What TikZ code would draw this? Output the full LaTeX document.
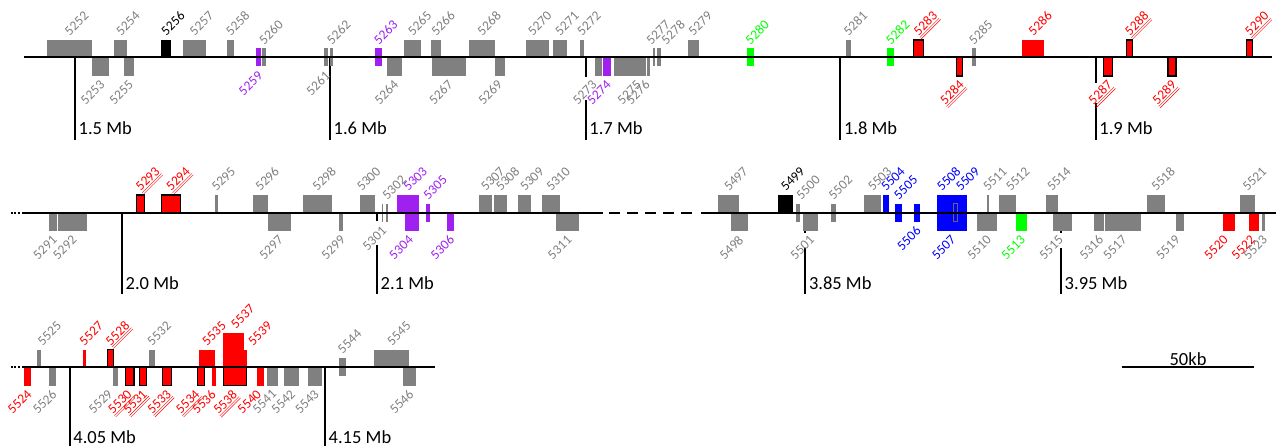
\documentclass[tikz,border=0pt]{standalone}
\usepackage{fontspec}
\setmainfont{Carlito}

\definecolor{genegray}{RGB}{128,128,128}
\definecolor{genepurple}{RGB}{160,32,240}
\definecolor{genegreen}{RGB}{0,255,0}

\newcommand\gplain[1]{#1}
\newcommand\guline[1]{\underline{\underline{#1}}}
\newcommand\gtype[5]{\def\gtop{#1}\def\gbot{#2}\def\gly{#3}\def\gtag{#4}\def\gbox{#5}\let\gfmt\gplain}

\tikzset{
  fwd/.code={\gtype{-17.5}{0}{-20.5}{tagup}{plain}},
  rev/.code={\gtype{0}{18.5}{21}{tagdn}{plain}},
  fwdS/.code={\gtype{-9}{9}{-12}{tagup}{plain}},
  revS/.code={\gtype{-9}{9}{12}{tagdn}{plain}},
  fwdX/.code={\gtype{-34.5}{0}{-37.5}{tagup}{plain}},
  fwdM/.code={\gtype{-9}{9}{-20.5}{tagup}{inner}},
  fwdH/.code={\gtype{-17.5}{0}{-20.5}{tagup}{hit}\let\gfmt\guline},
  revH/.code={\gtype{0}{18.5}{21}{tagdn}{hit}\let\gfmt\guline},
  plain/.style={},
  hit/.style={draw=black,line width=1.5pt},
  inner/.style={draw=black!60,line width=0.5pt},
  tag/.style={font=\fontsize{13.5}{13.5}\selectfont,inner sep=0.5pt,rotate=45},
  tagup/.style={tag,anchor=base west},
  tagdn/.style={xshift=-1.5pt,tag,anchor=north east},
}

\newcommand\generow[2]{%
  \foreach \xa/\xb/\ty/\col/\num/\dx in {#2}{%
    \tikzset{\ty}%
    \fill[fill=\col,\gbox] (\xa,{#1+(\gtop)}) rectangle (\xb,{#1+(\gbot)});
    \node[\gtag,text=\col] (g\num) at ({(\xa+\xb)/2+\dx},{#1+(\gly)}) {\gfmt{\num}};
  }%
}

\begin{document}
\begin{tikzpicture}[x=1pt,y=-1pt,
  axis/.style={line width=2pt},
  tick/.style={line width=2pt},
  mb/.style={font=\fontsize{18.5}{18.5}\selectfont,anchor=base west,inner sep=0pt}]
\useasboundingbox (0,0) rectangle (1276,446);

\foreach \x/\r/\g/\h/\e/\l/\m [count=\i] in {
  75/57.5/57.5/57.5/140/135/1.5 Mb, 330/57.5/57.5/57.5/140/135/1.6 Mb,
  585.7/57.5/77/100/140/135/1.7 Mb, 840.3/57.5/57.5/57.5/140/135/1.8 Mb,
  1095.7/57.5/83/103/140/135/1.9 Mb,
  122/212.7/212.7/212.7/294.3/289.3/2.0 Mb, 377/212.7/220.7/245/294.3/289.3/2.1 Mb,
  805.3/212.7/233/248/294.3/289.3/3.85 Mb, 1061/212.7/233/248/294.3/289.3/3.95 Mb,
  69.7/367/367/367/446/443.5/4.05 Mb, 325/367/367/367/446/443.5/4.15 Mb}{
  \draw[tick] (\x,\r) -- (\x,\g) (\x,\h) -- (\x,\e);
  \node[mb] (mb\i) at (\x+3.5,\l) {\m};
}

\generow{57.5}{
  46.7/92.3/fwd/genegray/5252/0, 92.3/109/rev/genegray/5253/0,
  114.3/127.3/fwd/genegray/5254/0, 124.3/134.3/rev/genegray/5255/0,
  160.7/171/fwd/black/5256/0, 183.3/205.7/fwd/genegray/5257/0,
  227/234.3/fwd/genegray/5258/0, 256.3/261/revS/genepurple/5259/0,
  262.3/265.7/fwdS/genegray/5260/0, 324/328/revS/genegray/5261/0,
  330/333.3/fwdS/genegray/5262/0, 375/382.3/fwdS/genepurple/5263/0,
  386.7/401.7/rev/genegray/5264/0, 404.3/420.7/fwd/genegray/5265/0,
  431/441/fwd/genegray/5266/0, 431.7/465.7/rev/genegray/5267/0,
  468.7/495.3/fwd/genegray/5268/0, 494.7/505.3/rev/genegray/5269/-2,
  526.3/549/fwd/genegray/5270/-5, 553/566.7/fwd/genegray/5271/0,
  580/583.7/fwd/genegray/5272/0, 595/602.3/rev/genegray/5273/-6,
  603.3/610.7/rev/genepurple/5274/0, 614.3/646/rev/genegray/5275/7,
  647.3/650/rev/genegray/5276/-3, 652.7/655.3/fwdS/genegray/5277/-3,
  657.3/660.7/fwdS/genegray/5278/7, 687.7/698.7/fwd/genegray/5279/0,
  746.7/753.7/fwdS/genegreen/5280/0, 845.7/851/fwd/genegray/5281/0,
  887/894/fwdS/genegreen/5282/0, 913.3/923.3/fwdH/red/5283/0,
  956.7/962.7/revH/red/5284/0, 971.7/975.7/fwdS/genegray/5285/0,
  1022.3/1044/fwd/red/5286/0, 1103.3/1112.7/revH/red/5287/0,
  1126.7/1132.7/fwdH/red/5288/0, 1168/1176/revH/red/5289/0,
  1246.7/1252.7/fwdH/red/5290/0}

\generow{212.7}{
  49.3/56.7/rev/genegray/5291/0, 58.3/87.3/rev/genegray/5292/0,
  136.7/144.3/fwdH/red/5293/0, 161.7/180.3/fwdH/red/5294/0,
  214.7/218/fwd/genegray/5295/0, 252.7/267.7/fwd/genegray/5296/0,
  267.7/290.7/rev/genegray/5297/0, 302.7/331.7/fwd/genegray/5298/0,
  339.3/343.3/rev/genegray/5299/0, 360/375/fwd/genegray/5300/-6,
  381.7/383.3/revS/genegray/5301/0, 386/388.3/fwdS/genegray/5302/0,
  397.3/419/fwd/genepurple/5303/0, 405.3/419/rev/genepurple/5304/-3,
  426/430/fwdS/genepurple/5305/0, 446.7/453.7/rev/genepurple/5306/0,
  479.3/492/fwd/genegray/5307/0, 493.7/507.3/fwd/genegray/5308/0,
  518.3/531.3/fwd/genegray/5309/0, 542/560/fwd/genegray/5310/0,
  556/579.3/rev/genegray/5311/0,
  718.3/739.3/fwd/genegray/5497/0, 730.7/747.7/rev/genegray/5498/0,
  778/793.3/fwd/black/5499/0, 795.7/800.3/fwdS/genegray/5500/3,
  803/817.7/rev/genegray/5501/0, 830.7/836/fwdS/genegray/5502/0,
  864/881/fwd/genegray/5503/0, 882.7/889/fwd/blue/5504/0,
  895.3/902/fwdS/blue/5505/0, 913.7/919.7/revS/blue/5506/0,
  936.7/966.7/rev/blue/5507/0, 936.7/966.7/fwd/blue/5508/-10,
  953.3/957.7/fwdM/blue/5509/5, 977.3/997.3/rev/genegray/5510/0,
  986.7/989/fwd/genegray/5511/0, 999/1016/fwd/genegray/5512/3,
  1016/1026.7/rev/genegreen/5513/0, 1045.7/1058/fwd/genegray/5514/0,
  1052.7/1072/rev/genegray/5515/-3, 1094.3/1104/rev/genegray/5316/0,
  1104.7/1141.3/rev/genegray/5517/0, 1146.7/1165.3/fwd/genegray/5518/0,
  1176/1184/rev/genegray/5519/-4, 1223.3/1234.7/rev/red/5520/-5,
  1240/1254.7/fwd/genegray/5521/0, 1249.3/1259.3/rev/red/5522/-3,
  1262/1264.7/rev/genegray/5523/0}

\generow{367}{
  24.3/31/rev/red/5524/0, 37.3/41.3/fwd/genegray/5525/3,
  49/56/rev/genegray/5526/0, 82.7/85.7/fwd/red/5527/0,
  107.7/113.3/fwdH/red/5528/0, 112.7/118.3/rev/genegray/5529/-7,
  125.7/134/revH/red/5530/-2, 139.3/146.7/revH/red/5531/0,
  149.3/154.7/fwd/genegray/5532/0, 162.7/171.7/revH/red/5533/0,
  197.3/204.3/revH/red/5534/-5, 199/215/fwd/red/5535/0,
  211.7/216/rev/red/5536/-2, 223.3/244/fwdX/red/5537/2,
  225/246.7/fwd/red/5539/17, 223.3/246.7/revH/red/5538/-2,
  256.7/264/rev/red/5540/-3, 266.7/278.3/rev/genegray/5541/0,
  283.7/299/rev/genegray/5542/0, 308/322/rev/genegray/5543/0,
  339.3/345.7/fwdS/genegray/5544/0, 374.3/409.3/fwd/genegray/5545/0,
  403/416/rev/genegray/5546/0}

\draw[axis] (24,57.5) -- (1272,57.5);
\draw[axis,dash pattern=on 1.7pt off 1.7pt] (11,212.7) -- (20,212.7);
\draw[axis] (22,212.7) -- (603.3,212.7);
\draw[axis,dash pattern=on 11pt off 7pt] (609,212.7) -- (693,212.7);
\draw[axis] (701,212.7) -- (1276,212.7);
\draw[axis,dash pattern=on 1.7pt off 1.7pt] (11,367) -- (20,367);
\draw[axis] (22,367) -- (435,367);

\draw[axis] (1121.7,367) -- (1254.3,367);
\node[mb,anchor=base] (scale) at (1188,365) {50kb};
\end{tikzpicture}
\end{document}
